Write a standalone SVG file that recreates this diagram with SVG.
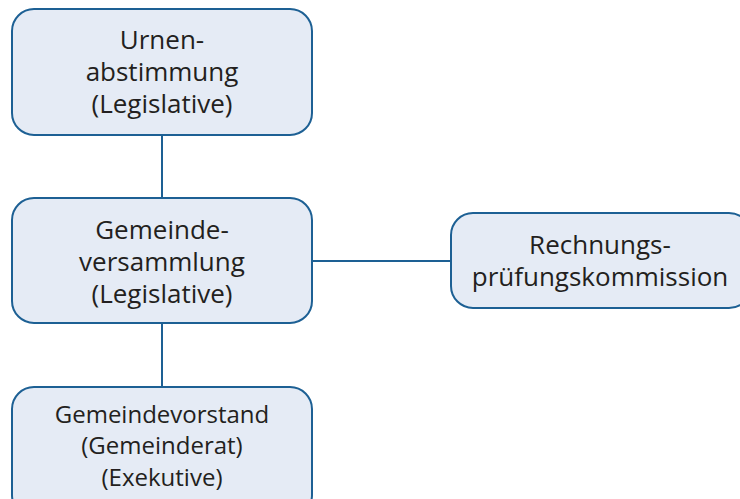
<svg xmlns="http://www.w3.org/2000/svg" width="740" height="499" viewBox="0 0 740 499">
  <style>
    .box { fill: #e5ebf5; stroke: #1d6094; stroke-width: 2; }
    .link { stroke: #1d6094; stroke-width: 2; fill: none; }
    .label { font-family: "Open Sans", "Noto Sans", sans-serif; font-size: 26px; fill: #231f20; text-anchor: middle; }
    .small { font-size: 24px; }
  </style>
  <rect width="740" height="499" fill="#ffffff"/>
  <g id="connectors">
    <line class="link" x1="162" y1="135" x2="162" y2="198"/>
    <line class="link" x1="162" y1="323" x2="162" y2="387"/>
    <line class="link" x1="312" y1="261" x2="451" y2="261"/>
  </g>
  <g id="urnenabstimmung">
    <rect class="box" x="12" y="9" width="300" height="126" rx="22"/>
    <text class="label" x="162" y="49">Urnen-</text>
    <text class="label" x="162" y="81">abstimmung</text>
    <text class="label" x="162" y="113">(Legislative)</text>
  </g>
  <g id="gemeindeversammlung">
    <rect class="box" x="12" y="198" width="300" height="125" rx="22"/>
    <text class="label" x="162" y="239">Gemeinde-</text>
    <text class="label" x="162" y="271">versammlung</text>
    <text class="label" x="162" y="303">(Legislative)</text>
  </g>
  <g id="gemeindevorstand">
    <rect class="box" x="12" y="387" width="300" height="130" rx="22"/>
    <text class="label small" x="162" y="423">Gemeindevorstand</text>
    <text class="label small" x="162" y="454">(Gemeinderat)</text>
    <text class="label small" x="162" y="486">(Exekutive)</text>
  </g>
  <g id="rechnungspruefungskommission">
    <rect class="box" x="451" y="213" width="300" height="95" rx="22"/>
    <text class="label" x="600" y="254">Rechnungs-</text>
    <text class="label" x="600" y="286">prüfungskommission</text>
  </g>
</svg>
